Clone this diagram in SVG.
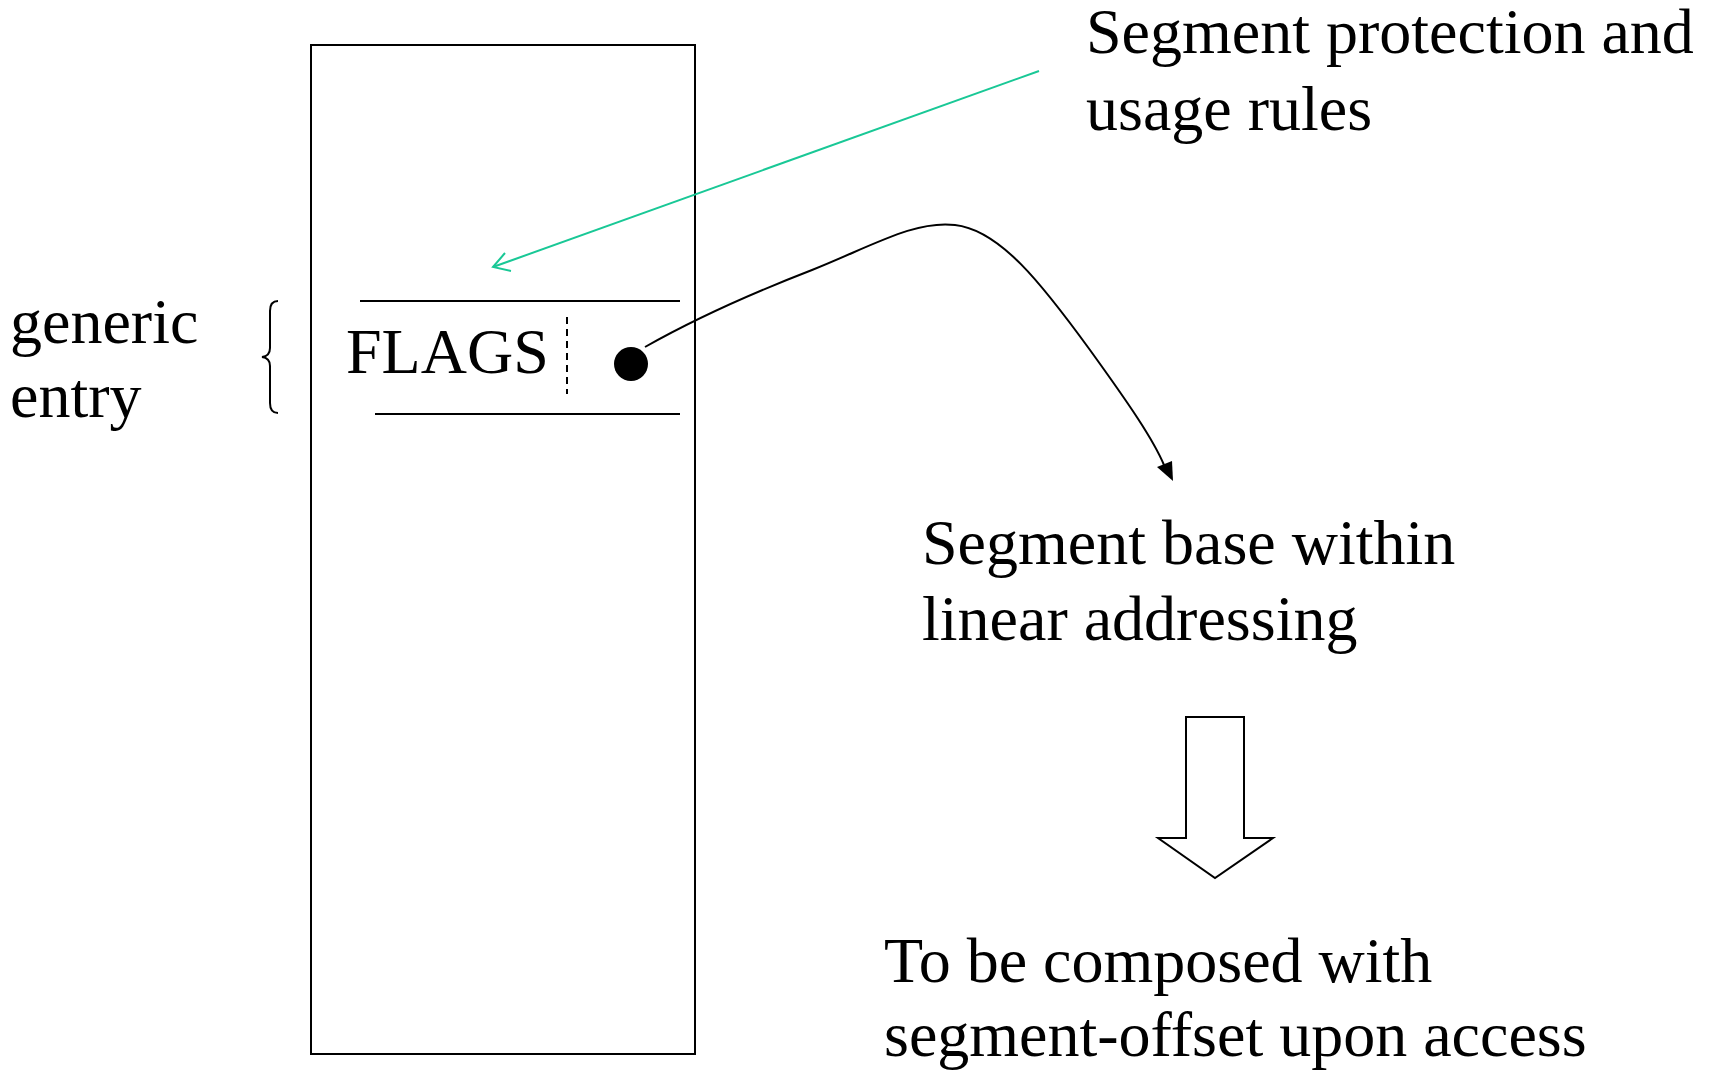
<svg xmlns="http://www.w3.org/2000/svg" width="1713" height="1071" viewBox="0 0 1713 1071">
<style>
.t{font-family:"Liberation Serif","Times New Roman",serif;font-size:64px;fill:#000}
.ln{stroke:#000;stroke-width:2;fill:none}
</style>
<rect width="1713" height="1071" fill="#fff"/>
<g id="table">
<rect x="311" y="45" width="384" height="1009" class="ln"/>
</g>
<g id="entry">
<line x1="360" y1="301" x2="680" y2="301" class="ln"/>
<line x1="375" y1="414" x2="680" y2="414" class="ln"/>
<text x="346" y="373" class="t">FLAGS</text>
<line x1="567" y1="317" x2="567" y2="394" class="ln" stroke-dasharray="7,5"/>
<circle cx="631" cy="364" r="17" fill="#000"/>
</g>
<g id="brace">
<path d="M 278 301 Q 270 301 270 311 L 270 348 Q 270 356 262 357 Q 270 358 270 366 L 270 403 Q 270 413 278 413" class="ln"/>
<text x="10" y="343" class="t">generic</text>
<text x="10" y="417" class="t">entry</text>
</g>
<g id="protection">
<text x="1086" y="53" class="t">Segment protection and</text>
<text x="1086" y="130" class="t">usage rules</text>
</g>
<g id="base">
<text x="922" y="564" class="t">Segment base within</text>
<text x="922" y="640" class="t">linear addressing</text>
</g>
<g id="compose">
<path d="M 1186 717 L 1244 717 L 1244 838 L 1273 838 L 1215 878 L 1158 838 L 1186 838 Z" class="ln" fill="#fff"/>
<text x="884" y="982" class="t">To be composed with</text>
<text x="884" y="1056" class="t">segment-offset upon access</text>
</g>
<g id="connectors">
<line x1="1039" y1="71" x2="493" y2="267" stroke="#19c896" stroke-width="2"/>
<polyline points="505,253 493,267 511,271" fill="none" stroke="#19c896" stroke-width="2"/>
<path d="M 645 347 C 698 317, 750 294, 812 270 C 872 246, 915 220, 955 225 C 1000 230, 1042 284, 1090 350 C 1129 404, 1153 439, 1164 465" class="ln"/>
<polygon points="1157,467 1172,461 1173,481" fill="#000"/>
</g>
</svg>
